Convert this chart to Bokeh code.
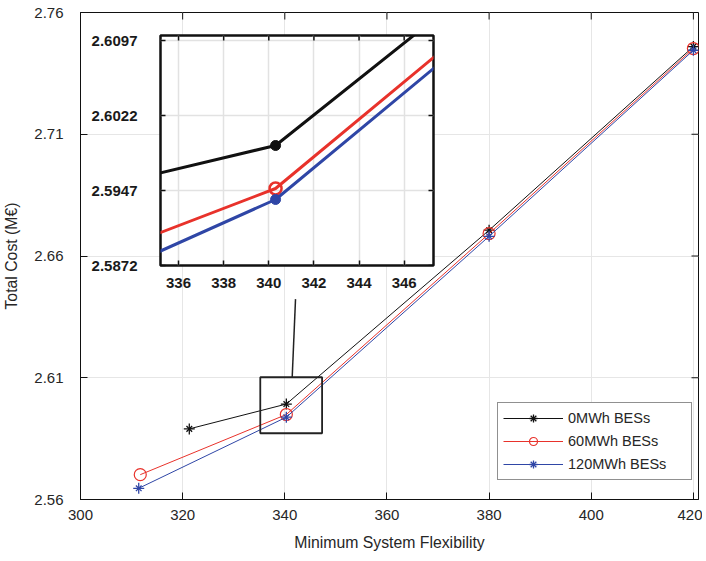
import math
from bokeh.plotting import figure
from bokeh.models import Range1d, FixedTicker, PrintfTickFormatter, BoxAnnotation
from bokeh.layouts import column
from bokeh.embed import file_html
from bokeh.resources import INLINE

# ---------------- data ----------------
series_labels = ["0MWh BESs", "60MWh BESs", "120MWh BESs"]
flex_0mwh = [321.3, 340.3, 380.0, 420.0]
cost_0mwh = [2.5890, 2.5992, 2.6706, 2.7460]
flex_60mwh = [311.7, 340.3, 380.0, 420.0]
cost_60mwh = [2.5702, 2.5949, 2.6692, 2.7452]
flex_120mwh = [311.4, 340.3, 380.0, 420.0]
cost_120mwh = [2.5646, 2.5938, 2.6681, 2.7445]

x_ticks = [300, 320, 340, 360, 380, 400, 420]
y_ticks = [2.56, 2.61, 2.66, 2.71, 2.76]
inset_x_ticks = [336, 338, 340, 342, 344, 346]
inset_y_ticks = [2.5872, 2.5947, 2.6022, 2.6097]

main_x_range = (300, 421)
main_y_range = (2.56, 2.76)
inset_x_range = (335.2, 347.3)
inset_y_range = (2.5872, 2.6102)
connector_start = (341.45, inset_y_range[1])
connector_end = (342.1, 2.6423)

BLACK = "#111111"
RED = "#e8322b"
BLUE = "#2f46a6"
TXT = "#262626"
FONT = "Liberation Sans"


def mirror_ticks(fig, xt, yt, xr, yr, length, width):
    # inward tick marks on the top and right edges of the frame
    fig.ray(x=xt, y=[yr[1]] * len(xt), length=length, length_units="screen",
            angle=-math.pi / 2, line_color=BLACK, line_width=width)
    fig.ray(x=[xr[1]] * len(yt), y=yt, length=length, length_units="screen",
            angle=math.pi, line_color=BLACK, line_width=width)


# ---------------- main figure ----------------
W, H = 702, 553
p = figure(width=W, height=H, output_backend="svg", toolbar_location=None,
           x_range=Range1d(*main_x_range), y_range=Range1d(*main_y_range),
           min_border_left=76, min_border_right=0, min_border_top=12, min_border_bottom=52)
p.background_fill_color = "white"
p.border_fill_color = "white"
p.outline_line_color = BLACK
p.outline_line_width = 1

p.xaxis.ticker = FixedTicker(ticks=x_ticks)
p.yaxis.ticker = FixedTicker(ticks=y_ticks)
p.yaxis.formatter = PrintfTickFormatter(format="%.2f")
for ax in p.axis:
    ax.major_tick_in = 7
    ax.major_tick_out = 0
    ax.minor_tick_in = 0
    ax.minor_tick_out = 0
    ax.minor_tick_line_color = None
    ax.major_tick_line_color = BLACK
    ax.axis_line_color = BLACK
    ax.major_label_text_font = FONT
    ax.major_label_text_font_size = "15px"
    ax.major_label_text_color = TXT
    ax.axis_label_text_font = FONT
    ax.axis_label_text_font_size = "15.8px"
    ax.axis_label_text_font_style = "normal"
    ax.axis_label_text_color = TXT

p.xaxis.axis_label = "Minimum System Flexibility"
p.yaxis.axis_label = "Total Cost (M€)"
p.xaxis.major_label_standoff = 10
p.yaxis.major_label_standoff = 17
p.xaxis.axis_label_standoff = 11
p.yaxis.axis_label_standoff = 11

p.xgrid.ticker = FixedTicker(ticks=x_ticks)
p.ygrid.ticker = FixedTicker(ticks=y_ticks)
p.grid.grid_line_color = "#e6e6e6"
p.grid.grid_line_width = 1

mirror_ticks(p, x_ticks, y_ticks, main_x_range, main_y_range, 7, 1)

# series
p.line(flex_0mwh, cost_0mwh, color=BLACK, line_width=1, legend_label=series_labels[0])
p.scatter(flex_0mwh, cost_0mwh, marker="cross", size=11, line_color=BLACK, line_width=1.3,
          legend_label=series_labels[0])
p.scatter(flex_0mwh, cost_0mwh, marker="x", size=8, line_color=BLACK, line_width=1.3,
          legend_label=series_labels[0])

p.line(flex_60mwh, cost_60mwh, color=RED, line_width=1, legend_label=series_labels[1])
p.scatter(flex_60mwh, cost_60mwh, marker="circle", size=12, line_color=RED, fill_color=None,
          line_width=1.2, legend_label=series_labels[1])

p.line(flex_120mwh, cost_120mwh, color=BLUE, line_width=1, legend_label=series_labels[2])
p.scatter(flex_120mwh, cost_120mwh, marker="cross", size=11, line_color=BLUE, line_width=1.3,
          legend_label=series_labels[2])
p.scatter(flex_120mwh, cost_120mwh, marker="x", size=8, line_color=BLUE, line_width=1.3,
          legend_label=series_labels[2])

# zoom box and connector
p.add_layout(BoxAnnotation(left=inset_x_range[0], right=inset_x_range[1],
                           bottom=inset_y_range[0], top=inset_y_range[1],
                           fill_alpha=0, line_color="#222222", line_alpha=1, line_width=1.8))
p.segment(x0=[connector_start[0]], y0=[connector_start[1]],
          x1=[connector_end[0]], y1=[connector_end[1]], line_color="#222222", line_width=1.5)

leg = p.legend[0]
leg.location = (417, 19)
leg.padding = 5
leg.margin = 0
leg.spacing = 3
leg.glyph_width = 60
leg.glyph_height = 20
leg.label_height = 20
leg.label_width = 118
leg.label_standoff = 5
leg.label_text_font = FONT
leg.label_text_font_size = "14.5px"
leg.label_text_color = TXT
leg.border_line_color = "#222222"
leg.border_line_width = 1
leg.background_fill_color = "white"
leg.background_fill_alpha = 1

# ---------------- inset figure ----------------
IW, IH = 357, 268
inset = figure(width=IW, height=IH, output_backend="svg", toolbar_location=None,
               x_range=Range1d(*inset_x_range), y_range=Range1d(*inset_y_range),
               min_border_left=71, min_border_right=4, min_border_top=5, min_border_bottom=33)
inset.border_fill_color = None
inset.background_fill_color = "white"
inset.outline_line_color = BLACK
inset.outline_line_width = 2.5

inset.xaxis.ticker = FixedTicker(ticks=inset_x_ticks)
inset.yaxis.ticker = FixedTicker(ticks=inset_y_ticks)
inset.yaxis.formatter = PrintfTickFormatter(format="%.4f")
for ax in inset.axis:
    ax.major_tick_in = 5
    ax.major_tick_out = 0
    ax.minor_tick_in = 0
    ax.minor_tick_out = 0
    ax.major_tick_line_width = 1.5
    ax.minor_tick_line_color = None
    ax.major_tick_line_color = BLACK
    ax.axis_line_color = None
    ax.major_label_text_font = FONT
    ax.major_label_text_font_size = "15px"
    ax.major_label_text_font_style = "bold"
    ax.major_label_text_color = "#1a1a1a"
inset.xaxis.major_label_standoff = 12
inset.yaxis.major_label_standoff = 23
inset.xgrid.ticker = FixedTicker(ticks=inset_x_ticks)
inset.ygrid.ticker = FixedTicker(ticks=inset_y_ticks)
inset.grid.grid_line_color = "#e2e2e2"
inset.grid.grid_line_width = 1.5

mirror_ticks(inset, inset_x_ticks, inset_y_ticks, inset_x_range, inset_y_range, 5, 1.5)

inset.line(flex_0mwh, cost_0mwh, color=BLACK, line_width=3)
inset.scatter(flex_0mwh, cost_0mwh, marker="circle", size=10, color=BLACK)
inset.line(flex_60mwh, cost_60mwh, color=RED, line_width=3)
inset.scatter(flex_60mwh, cost_60mwh, marker="circle", size=12, line_color=RED,
              fill_color=None, line_width=2.5)
inset.line(flex_120mwh, cost_120mwh, color=BLUE, line_width=3)
inset.scatter(flex_120mwh, cost_120mwh, marker="circle", size=10, color=BLUE)

# place inset over the main plot
INSET_LEFT, INSET_TOP = 80, 30
inset.margin = (-(H - INSET_TOP), 0, H - INSET_TOP - IH, INSET_LEFT)

layout = column(p, inset)
layout.margin = 0
p.margin = 0

open("out.html", "w").write(file_html(layout, INLINE))
